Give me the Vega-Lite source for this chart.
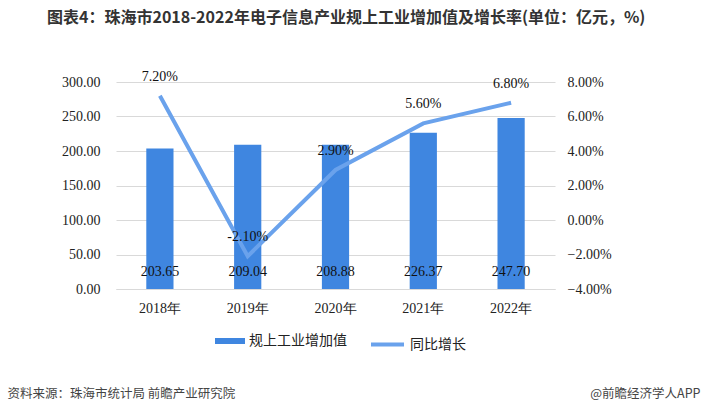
{
  "$schema": "https://vega.github.io/schema/vega-lite/v6.json",
  "width": 439,
  "height": 207,
  "autosize": {"type": "none"},
  "padding": {"left": 116, "top": 82, "right": 146, "bottom": 126},
  "background": "white",
  "config": {"view": {"stroke": null}, "legend": {"padding": 0}},
  "title": {
    "text": "图表4：珠海市2018-2022年电子信息产业规上工业增加值及增长率(单位：亿元，%)",
    "anchor": "start",
    "frame": "group",
    "dx": -69,
    "offset": 44,
    "font": "Noto Sans CJK SC",
    "fontSize": 16,
    "fontWeight": "bold",
    "color": "#333333"
  },
  "data": {
    "values": [
      {"year": "2018年", "value": 203.65, "rate": 7.2, "vlabel": "203.65", "rlabel": "7.20%"},
      {"year": "2019年", "value": 209.04, "rate": -2.1, "vlabel": "209.04", "rlabel": "-2.10%"},
      {"year": "2020年", "value": 208.88, "rate": 2.9, "vlabel": "208.88", "rlabel": "2.90%"},
      {"year": "2021年", "value": 226.37, "rate": 5.6, "vlabel": "226.37", "rlabel": "5.60%"},
      {"year": "2022年", "value": 247.7, "rate": 6.8, "vlabel": "247.70", "rlabel": "6.80%"}
    ]
  },
  "encoding": {
    "x": {
      "field": "year",
      "type": "nominal",
      "sort": null,
      "scale": {"paddingInner": 0.69, "paddingOuter": 0.345},
      "axis": {
        "title": "资料来源：珠海市统计局 前瞻产业研究院",
        "titleX": -109,
        "titleY": 104,
        "titleAlign": "left",
        "titleBaseline": "middle",
        "titleFont": "Noto Sans CJK SC",
        "titleFontSize": 12.5,
        "titleFontWeight": "normal",
        "titleColor": "#444444",
        "labelAngle": 0,
        "ticks": false,
        "domain": true,
        "domainColor": "#d9d9d9",
        "labelFont": "Liberation Serif",
        "labelFontSize": 14,
        "labelColor": "#222222",
        "labelPadding": 12
      }
    }
  },
  "layer": [
    {
      "encoding": {
        "y": {
          "field": "value",
          "type": "quantitative",
          "scale": {"domain": [0, 300], "nice": false},
          "axis": {
            "title": null,
            "values": [0, 50, 100, 150, 200, 250, 300],
            "labelOverlap": false,
            "format": ".2f",
            "ticks": false,
            "domain": false,
            "grid": true,
            "gridColor": "#d9d9d9",
            "labelFont": "Liberation Serif",
            "labelFontSize": 14,
            "labelColor": "#222222",
            "labelPadding": 16
          }
        }
      },
      "layer": [
        {
          "mark": {"type": "bar", "color": "#3F86E0"},
          "encoding": {
            "fill": {
              "datum": "规上工业增加值",
              "type": "nominal",
              "scale": {"domain": ["规上工业增加值"], "range": ["#3F86E0"]},
              "legend": {
                "title": null,
                "orient": "none",
                "legendX": 99,
                "legendY": 244,
                "symbolType": "M-1,-0.2H1V0.2H-1Z",
                "symbolSize": 900,
                "symbolStrokeWidth": 0,
                "labelFont": "Noto Sans CJK SC",
                "labelFontSize": 14,
                "labelColor": "#222222",
                "labelOffset": 4
              }
            }
          }
        },
        {
          "mark": {"type": "text", "font": "Liberation Serif", "fontSize": 14, "color": "#111111", "baseline": "middle", "dy": -17},
          "encoding": {
            "y": {
              "datum": 0,
              "type": "quantitative",
              "scale": {"domain": [0, 300], "nice": false},
              "axis": {
                "title": null,
                "values": [0, 50, 100, 150, 200, 250, 300],
                "labelOverlap": false,
                "format": ".2f",
                "ticks": false,
                "domain": false,
                "grid": true,
                "gridColor": "#d9d9d9",
                "labelFont": "Liberation Serif",
                "labelFontSize": 14,
                "labelColor": "#222222",
                "labelPadding": 16
              }
            },
            "text": {"field": "vlabel"}
          }
        }
      ]
    },
    {
      "encoding": {
        "y": {
          "field": "rate",
          "type": "quantitative",
          "scale": {"domain": [-4, 8], "nice": false},
          "axis": {
            "title": "@前瞻经济学人APP",
            "titleAngle": 0,
            "titleX": 145,
            "titleY": 311,
            "titleAlign": "right",
            "titleBaseline": "middle",
            "titleFont": "Noto Sans CJK SC",
            "titleFontSize": 12.5,
            "titleFontWeight": "normal",
            "titleColor": "#444444",
            "orient": "right",
            "values": [-4, -2, 0, 2, 4, 6, 8],
            "labelOverlap": false,
            "labelExpr": "format(datum.value, '.2f') + '%'",
            "ticks": false,
            "domain": false,
            "grid": false,
            "labelFont": "Liberation Serif",
            "labelFontSize": 14,
            "labelColor": "#222222",
            "labelPadding": 12
          }
        }
      },
      "layer": [
        {
          "mark": {"type": "line", "strokeWidth": 4, "strokeCap": "butt"},
          "encoding": {
            "stroke": {
              "datum": "同比增长",
              "type": "nominal",
              "scale": {"domain": ["同比增长"], "range": ["#6AA2EC"]},
              "legend": {
                "title": null,
                "orient": "none",
                "legendX": 253,
                "legendY": 244,
                "symbolType": "M-1,0H1",
                "symbolSize": 1089,
                "symbolStrokeWidth": 4,
                "labelFont": "Noto Sans CJK SC",
                "labelFontSize": 14,
                "labelColor": "#222222",
                "labelOffset": 4
              }
            }
          }
        },
        {
          "mark": {"type": "text", "font": "Liberation Serif", "fontSize": 14, "color": "#111111", "baseline": "middle", "dy": -19},
          "encoding": {
            "text": {"field": "rlabel"}
          }
        }
      ]
    }
  ],
  "resolve": {"scale": {"y": "independent"}}
}
